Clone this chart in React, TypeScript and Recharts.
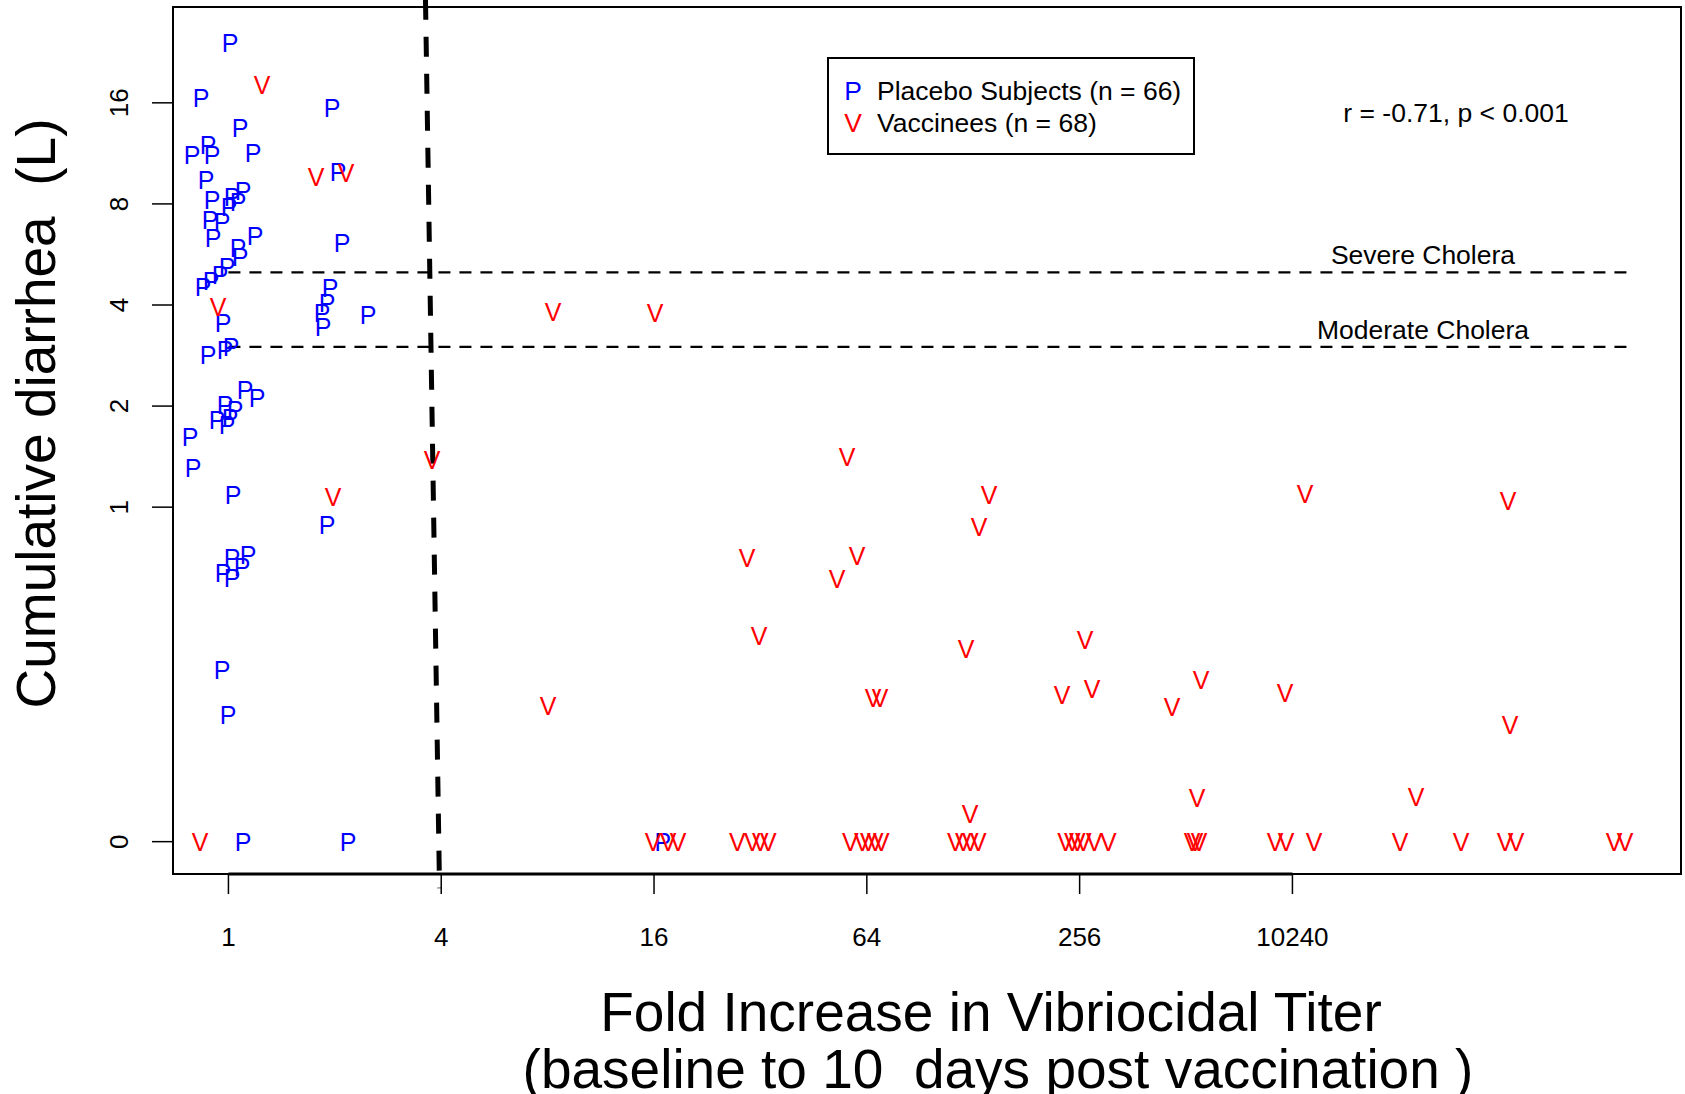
import React from "react";
import { ReferenceArea, ReferenceLine, Scatter, ScatterChart, XAxis, YAxis } from "recharts";

const FONT = '"Liberation Sans", Arial, Helvetica, sans-serif';

// Positions are on the plot's log2 scales: x = log2(fold increase), y = log2(litres).
// null in a litres array means 0 L (drawn on the separate "0" row).
const placeboLog2Fold = [
  0.015, -0.258, 0.974, 0.109, -0.342, -0.192, -0.154, 0.231, -0.211, 1.03,
  0.034, 0.137, 0.09, 0.006, -0.173, -0.06, -0.145, 0.25, 0.09, 0.109,
  -0.013, -0.079, -0.164, -0.239, 1.068, -0.051, 0.955, 0.927, 0.88, 0.889,
  1.312, -0.192, -0.032, 0.024, 0.156, 0.269, -0.032, 0.062, -0.107, 0.015,
  -0.013, -0.361, -0.333, 0.043, 0.927, 0.184, 0.034, 0.128, -0.051, 0.034,
  -0.06, -0.004, 0.137, 1.124, 4.083, -0.154,
];
const placeboLog2Liters: (number | null)[] = [
  4.596, 4.051, 3.952, 3.754, 3.487, 3.586, 3.487, 3.507, 3.24, 3.319,
  3.071, 3.131, 3.022, 2.972, 2.844, 2.824, 2.665, 2.685, 2.566, 2.477,
  2.378, 2.299, 2.24, 2.18, 2.616, 1.824, 2.17, 2.022, 1.923, 1.784,
  1.903, 1.507, 1.556, 1.586, 1.161, 1.081, 1.012, 0.962, 0.863, 0.883,
  0.814, 0.695, 0.388, 0.121, -0.176, -0.473, -0.503, -0.592, -0.651, -0.701,
  -1.612, -2.057, null, null, null, 3.042,
];

const vaccineLog2Fold = [
  0.316, 0.823, 1.105, -0.098, 0.983, -0.267, 1.914, 3.051, 4.009, 5.814,
  7.148, 7.054, 4.874, 5.908, 5.72, 4.987, 6.932, 6.058, 6.124, 3.004,
  10.118, 12.026, 8.051, 7.835, 8.117, 9.141, 8.868, 9.93, 12.045, 9.103,
  11.162, 6.97,
  3.991, 4.132, 4.226, 4.783, 4.925, 5.0, 5.075, 5.846, 5.959, 6.015,
  6.08, 6.137, 6.833, 6.908, 6.974, 7.049, 7.867, 7.932, 7.979, 8.036,
  8.139, 8.271, 9.056, 9.085, 9.122, 9.836, 9.94, 10.203, 11.011, 11.585,
  11.998, 12.102, 13.023, 13.126,
];
const vaccineLog2Liters: (number | null)[] = [
  4.18, 3.269, 3.309, 1.982, 0.101, null, 0.467, 1.933, 1.923, 0.497,
  0.121, -0.196, -0.503, -0.483, -0.711, -1.275, -1.404, -1.889, -1.889, -1.968,
  0.131, 0.061, -1.315, -1.859, -1.8, -1.711, -1.978, -1.84, -2.156, -2.879,
  -2.869, -3.037,
  null, null, null, null, null, null, null, null, null, null,
  null, null, null, null, null, null, null, null, null, null,
  null, null, null, null, null, null, null, null, null, null,
  null, null, null, null,
];

const ZERO_ROW = -3.309;
const severeLiters = 5;
const moderateLiters = 3;

const xTicks = [0, 2, 4, 6, 8, 10];
const xTickLabels = ["1", "4", "16", "64", "256", "10240"];
const yTicks = [ZERO_ROW, 0, 1, 2, 3, 4];
const yTickLabels = ["0", "1", "2", "4", "8", "16"];

const X_MIN = -0.521;
const X_MAX = 13.652;
const Y_MIN = -3.629;
const Y_MAX = 4.948;

const toPoints = (xs: number[], ys: (number | null)[]) =>
  xs.map((x, i) => ({ x, y: ys[i] ?? ZERO_ROW }));

const placebo = toPoints(placeboLog2Fold, placeboLog2Liters);
const vaccinees = toPoints(vaccineLog2Fold, vaccineLog2Liters);

const letter = (ch: string, color: string) => (props: any) => (
  <text
    x={props.cx}
    y={props.cy}
    dy="0.358em"
    textAnchor="middle"
    fontSize={25}
    fontFamily={FONT}
    fill={color}
  >
    {ch}
  </text>
);

const XTick = (props: any) => {
  const i = xTicks.indexOf(props.payload.value);
  return (
    <text x={props.x} y={props.y} dy="0.358em" textAnchor="middle" fontSize={26} fontFamily={FONT} fill="#000">
      {xTickLabels[i]}
    </text>
  );
};

const YTick = (props: any) => {
  const i = yTicks.indexOf(props.payload.value);
  return (
    <text
      x={props.x}
      y={props.y}
      dy="0.358em"
      transform={`rotate(-90 ${props.x} ${props.y})`}
      textAnchor="middle"
      fontSize={26}
      fontFamily={FONT}
      fill="#000"
    >
      {yTickLabels[i]}
    </text>
  );
};

export default function App() {
  const txt = { fontFamily: FONT, fill: "#000" };
  return (
    <div style={{ position: "absolute", left: 0, top: 0, width: 1685, height: 1094, background: "#fff" }}>
      <ScatterChart width={1685} height={1094} margin={{ top: 7, right: 4, bottom: 0, left: 0 }}>
        <XAxis
          dataKey="x"
          type="number"
          domain={[X_MIN, X_MAX]}
          ticks={xTicks}
          interval={0}
          allowDataOverflow
          height={220}
          axisLine={false}
          tickSize={20}
          tickMargin={43}
          tickLine={{ stroke: "#000", strokeWidth: 1.5 }}
          tick={XTick}
        />
        <YAxis
          dataKey="y"
          type="number"
          domain={[Y_MIN, Y_MAX]}
          ticks={yTicks}
          interval={0}
          allowDataOverflow
          width={173}
          axisLine={false}
          tickSize={21}
          tickMargin={33}
          tickLine={{ stroke: "#000", strokeWidth: 1.5 }}
          tick={YTick}
        />
        <ReferenceArea
          x1={X_MIN}
          x2={X_MAX}
          y1={Y_MIN}
          y2={Y_MAX}
          fill="none"
          fillOpacity={0}
          stroke="#000"
          strokeWidth={2}
          ifOverflow="visible"
        />
        <ReferenceLine
          segment={[{ x: 0, y: Y_MIN }, { x: 10, y: Y_MIN }]}
          stroke="#000"
          strokeWidth={3}
          ifOverflow="visible"
        />
        <ReferenceLine
          segment={[{ x: 0, y: Math.log2(severeLiters) }, { x: 13.154, y: Math.log2(severeLiters) }]}
          stroke="#000"
          strokeWidth={2.2}
          strokeDasharray="12 9"
          ifOverflow="visible"
        />
        <ReferenceLine
          segment={[{ x: 0, y: Math.log2(moderateLiters) }, { x: 13.154, y: Math.log2(moderateLiters) }]}
          stroke="#000"
          strokeWidth={2.2}
          strokeDasharray="12 9"
          ifOverflow="visible"
        />
        <ReferenceLine
          segment={[{ x: 1.852, y: 5.02 }, { x: 1.984, y: -3.77 }]}
          stroke="#000"
          strokeWidth={5}
          strokeDasharray="20 17"
          ifOverflow="visible"
        />
        <Scatter data={placebo} isAnimationActive={false} shape={letter("P", "#0000FF")} />
        <Scatter data={vaccinees} isAnimationActive={false} shape={letter("V", "#FF0000")} />
      </ScatterChart>
      <svg
        width={1685}
        height={1094}
        style={{ position: "absolute", left: 0, top: 0, pointerEvents: "none" }}
      >
        <text
          transform="translate(35.5 413.5) rotate(-90)"
          dy="0.358em"
          textAnchor="middle"
          fontSize={55}
          style={{ whiteSpace: "pre" }}
          {...txt}
        >
          {"Cumulative diarrhea  (L)"}
        </text>
        <text x={991} y={1031} textAnchor="middle" fontSize={55} {...txt}>
          Fold Increase in Vibriocidal Titer
        </text>
        <text x={998} y={1088} textAnchor="middle" fontSize={55} style={{ whiteSpace: "pre" }} {...txt}>
          {"(baseline to 10  days post vaccination )"}
        </text>
        <rect x={828} y={58} width={366} height={96} fill="#fff" stroke="#000" strokeWidth={2} />
        <text x={853} y={100} textAnchor="middle" fontSize={26.5} fontFamily={FONT} fill="#0000FF">P</text>
        <text x={877} y={100} fontSize={26.5} {...txt}>Placebo Subjects (n = 66)</text>
        <text x={853} y={132} textAnchor="middle" fontSize={26.5} fontFamily={FONT} fill="#FF0000">V</text>
        <text x={877} y={132} fontSize={26.5} {...txt}>Vaccinees (n = 68)</text>
        <text x={1456} y={122} textAnchor="middle" fontSize={26.5} {...txt}>r = -0.71, p &lt; 0.001</text>
        <text x={1423} y={264} textAnchor="middle" fontSize={26.5} {...txt}>Severe Cholera</text>
        <text x={1423} y={339} textAnchor="middle" fontSize={26.5} {...txt}>Moderate Cholera</text>
      </svg>
    </div>
  );
}
